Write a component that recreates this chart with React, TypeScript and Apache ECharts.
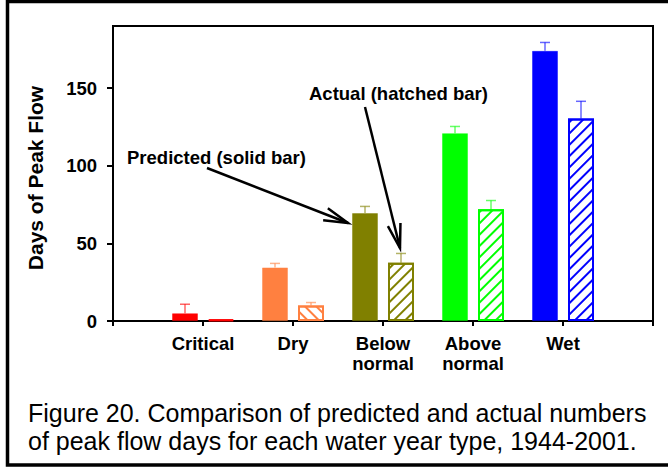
import React, { useEffect, useRef } from "react";
import * as echarts from "echarts";

// Water year types and the two estimates of peak-flow days
const categories = ["Critical", "Dry", "Below\nnormal", "Above\nnormal", "Wet"];
const colors = ["#ff0000", "#ff8040", "#808000", "#00ff00", "#0000ff"];
const predicted = [5, 34.5, 69.5, 121, 174];
const predictedErr = [5.8, 2.6, 4.3, 4.3, 5.4];
const actual = [1, 10, 37.5, 72, 130.5];
const actualErr = [0, 1.9, 6, 5.6, 11];
// hatch direction of each actual bar: 1 = "/", -1 = "\"
const hatchDir = [1, -1, 1, 1, 1];
const yTicks = [0, 50, 100, 150];
const yMax = 190;

const captionLines = [
  "Figure 20. Comparison of predicted and actual numbers",
  "of peak flow days for each water year type, 1944-2001.",
];

const FONT = '"Liberation Sans", Arial, Helvetica, sans-serif';
const BAR_W = 26;
const BAR_GAP = 10;
const OFFSET = (BAR_W + BAR_GAP) / 2;

function withAlpha(hex: string, a: number) {
  const n = parseInt(hex.slice(1), 16);
  return `rgba(${(n >> 16) & 255},${(n >> 8) & 255},${n & 255},${a})`;
}

function arrow(x1: number, y1: number, x2: number, y2: number) {
  const ang = Math.atan2(y2 - y1, x2 - x1);
  const len = 25;
  const half = (15 * Math.PI) / 180;
  const w1 = [x2 - len * Math.cos(ang - half), y2 - len * Math.sin(ang - half)];
  const w2 = [x2 - len * Math.cos(ang + half), y2 - len * Math.sin(ang + half)];
  const style = { stroke: "#000", lineWidth: 2.5, fill: null as any };
  return [
    { type: "line", shape: { x1, y1, x2, y2 }, style, z: 20 },
    { type: "polyline", shape: { points: [w1, [x2, y2], w2] }, style, z: 20 },
  ];
}

function errorSeries(values: number[], errs: number[], dx: number) {
  return {
    type: "custom",
    z: 5,
    data: values.map((v, i) => [i + 1, v, errs[i], i]),
    renderItem: (_p: any, api: any) => {
      const e = api.value(2);
      if (!(e > 0)) return null;
      const idx = api.value(3);
      const base = api.coord([api.value(0), api.value(1)]);
      const top = api.coord([api.value(0), api.value(1) + e]);
      const cx = base[0] + dx;
      const style = { stroke: withAlpha(colors[idx], 0.6), lineWidth: 1.5 };
      return {
        type: "group",
        children: [
          { type: "line", shape: { x1: cx, y1: base[1], x2: cx, y2: top[1] }, style },
          { type: "line", shape: { x1: cx - 5, y1: top[1], x2: cx + 5, y2: top[1] }, style },
        ],
      };
    },
  };
}

export default function App() {
  const ref = useRef<HTMLDivElement>(null);

  useEffect(() => {
    if (!ref.current) return;
    const chart = echarts.init(ref.current, null, { renderer: "svg" });

    const axisCats = ["", ...categories, ""];

    const solidData = [
      "-",
      ...predicted.map((v, i) => ({
        value: v,
        itemStyle: {
          color: colors[i],
          borderColor: withAlpha(colors[i], 0.45),
          borderWidth: 1,
        },
      })),
      "-",
    ];

    const hatchedData = [
      "-",
      ...actual.map((v, i) => ({
        value: v,
        itemStyle: {
          color: "#ffffff",
          borderColor: colors[i],
          borderWidth: 2,
          decal: {
            symbol: "rect",
            symbolSize: 1,
            color: colors[i],
            dashArrayX: [1, 0],
            dashArrayY: [2, 5.5],
            rotation: (hatchDir[i] * -Math.PI) / 4,
          },
        },
      })),
      "-",
    ];

    const labelStyle = {
      color: "#000",
      fontFamily: FONT,
      fontWeight: "bold" as const,
      fontSize: 18.5,
    };

    chart.setOption({
      animation: false,
      backgroundColor: "#ffffff",
      grid: {
        left: 113,
        right: 15,
        top: 26,
        bottom: 146,
        show: true,
        borderColor: "#000",
        borderWidth: 2,
        containLabel: false,
      },
      xAxis: {
        type: "category",
        data: axisCats,
        boundaryGap: false,
        axisLine: { lineStyle: { color: "#000", width: 2 } },
        axisTick: { show: true, length: 5, interval: 0, lineStyle: { color: "#000", width: 2 } },
        axisLabel: { ...labelStyle, interval: 0, margin: 12, lineHeight: 20 },
        splitLine: { show: false },
      },
      yAxis: {
        type: "value",
        min: 0,
        max: yMax,
        interval: 50,
        axisLine: { show: true, lineStyle: { color: "#000", width: 2 } },
        axisTick: {
          show: true,
          length: 6,
          customValues: yTicks,
          lineStyle: { color: "#000", width: 2 },
        },
        axisLabel: { ...labelStyle, margin: 16, customValues: yTicks },
        splitLine: { show: false },
      },
      series: [
        {
          type: "bar",
          name: "Predicted",
          data: solidData,
          barWidth: BAR_W,
          barGap: `${(BAR_GAP / BAR_W) * 100}%`,
          z: 2,
        },
        {
          type: "bar",
          name: "Actual",
          data: hatchedData,
          barWidth: BAR_W,
          z: 2,
        },
        errorSeries(predicted, predictedErr, -OFFSET),
        errorSeries(actual, actualErr, OFFSET),
      ],
      graphic: [
        {
          type: "rect",
          shape: { x: 7.5, y: 1.5, width: 700, height: 463.5 },
          style: { fill: null, stroke: "#000", lineWidth: 3.5 },
          z: 30,
        },
        {
          type: "text",
          x: 35.5,
          y: 178,
          rotation: Math.PI / 2,
          style: {
            text: "Days of Peak Flow",
            fill: "#000",
            font: `bold 21px ${FONT}`,
            textAlign: "center",
            textVerticalAlign: "middle",
          },
        },
        {
          type: "text",
          x: 309,
          y: 93,
          style: {
            text: "Actual (hatched bar)",
            fill: "#000",
            font: `bold 18.5px ${FONT}`,
            textAlign: "left",
            textVerticalAlign: "middle",
          },
          z: 20,
        },
        {
          type: "text",
          x: 127,
          y: 157,
          style: {
            text: "Predicted (solid bar)",
            fill: "#000",
            font: `bold 18.5px ${FONT}`,
            textAlign: "left",
            textVerticalAlign: "middle",
          },
          z: 20,
        },
        ...arrow(207, 168, 348, 223),
        ...arrow(365, 107, 400, 248),
        ...captionLines.map((t, i) => ({
          type: "text",
          x: 28,
          y: 413 + i * 28,
          style: {
            text: t,
            fill: "#000",
            font: `25px ${FONT}`,
            textAlign: "left",
            textVerticalAlign: "middle",
          },
        })),
      ],
    });

    return () => chart.dispose();
  }, []);

  return (
    <div
      ref={ref}
      style={{ position: "fixed", left: 0, top: 0, width: 668, height: 467, background: "#fff" }}
    />
  );
}
